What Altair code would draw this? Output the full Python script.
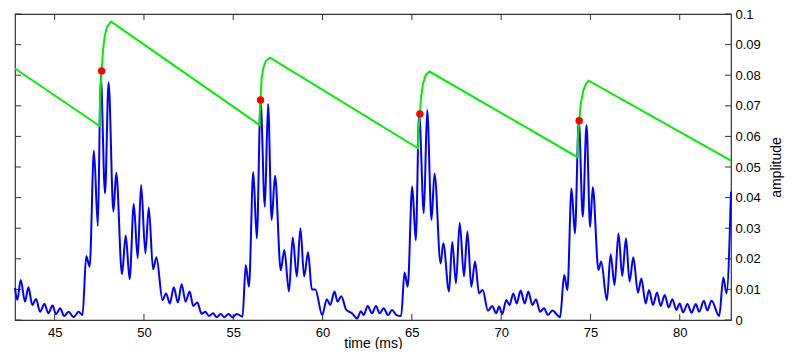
import altair as alt
import pandas as pd

# ---- data ----
blue_t = [42.78, 42.91, 43.10, 43.34, 43.53, 43.75, 43.96, 44.18, 44.43, 44.65,
          44.88, 45.08, 45.31, 45.53, 45.78, 46.06, 46.34, 46.56, 46.77, 46.96,
          47.20, 47.42, 47.58, 47.82, 48.02, 48.29, 48.45, 48.77, 48.98, 49.20,
          49.43, 49.65, 49.84, 50.08, 50.27, 50.51, 50.70, 51.04, 51.24, 51.45,
          51.67, 51.90, 52.11, 52.33, 52.56, 52.76, 52.99, 53.23, 53.44, 53.64,
          53.87, 54.07, 54.30, 54.49, 54.73, 54.96, 55.20, 55.52, 55.70, 55.88,
          56.12, 56.32, 56.53, 56.77, 56.95, 57.15, 57.34, 57.66, 57.86, 58.12,
          58.33, 58.56, 58.76, 58.97, 59.19, 59.40, 59.60, 59.98, 60.24, 60.43,
          60.67, 60.84, 61.05, 61.33, 61.65, 61.93, 62.15, 62.30, 62.53, 62.77,
          62.99, 63.20, 63.42, 63.67, 63.89, 64.14, 64.40, 64.59, 64.77, 65.02,
          65.22, 65.41, 65.67, 65.86, 66.10, 66.27, 66.61, 66.76, 67.08, 67.26,
          67.47, 67.68, 67.92, 68.11, 68.33, 68.54, 68.76, 68.97, 69.26, 69.50,
          69.72, 69.89, 70.06, 70.29, 70.47, 70.68, 70.87, 71.09, 71.32, 71.52,
          71.75, 71.95, 72.18, 72.40, 72.62, 72.87, 73.30, 73.53, 73.71, 73.94,
          74.13, 74.35, 74.57, 74.78, 74.98, 75.13, 75.45, 75.60, 75.92, 76.13,
          76.35, 76.57, 76.78, 76.99, 77.19, 77.40, 77.66, 77.85, 78.09, 78.28,
          78.50, 78.73, 78.93, 79.16, 79.38, 79.59, 79.81, 80.00, 80.19, 80.43,
          80.66, 80.90, 81.09, 81.35, 81.54, 81.78, 82.21, 82.44, 82.62, 82.87]
blue_a = [0.0105, 0.0065, 0.0131, 0.0060, 0.0107, 0.0049, 0.0069, 0.0027, 0.0052, 0.0022,
          0.0047, 0.0019, 0.0038, 0.0013, 0.0027, 0.0009, 0.0027, 0.0016, 0.0209, 0.0174,
          0.0553, 0.0307, 0.0800, 0.0414, 0.0776, 0.0354, 0.0481, 0.0150, 0.0276, 0.0133,
          0.0379, 0.0202, 0.0441, 0.0218, 0.0368, 0.0166, 0.0205, 0.0065, 0.0087, 0.0054,
          0.0107, 0.0057, 0.0117, 0.0060, 0.0093, 0.0046, 0.0057, 0.0020, 0.0027, 0.0013,
          0.0022, 0.0009, 0.0020, 0.0009, 0.0020, 0.0009, 0.0020, 0.0011, 0.0180, 0.0109,
          0.0484, 0.0267, 0.0712, 0.0370, 0.0706, 0.0327, 0.0471, 0.0163, 0.0229, 0.0093,
          0.0270, 0.0142, 0.0300, 0.0142, 0.0221, 0.0100, 0.0100, 0.0016, 0.0068, 0.0049,
          0.0093, 0.0060, 0.0078, 0.0033, 0.0022, 0.0005, 0.0029, 0.0016, 0.0046, 0.0022,
          0.0046, 0.0022, 0.0038, 0.0016, 0.0033, 0.0016, 0.0013, 0.0155, 0.0109, 0.0436,
          0.0261, 0.0675, 0.0349, 0.0686, 0.0327, 0.0479, 0.0185, 0.0251, 0.0093, 0.0256,
          0.0120, 0.0318, 0.0142, 0.0289, 0.0109, 0.0191, 0.0087, 0.0098, 0.0030, 0.0046,
          0.0022, 0.0044, 0.0020, 0.0065, 0.0049, 0.0087, 0.0054, 0.0096, 0.0054, 0.0093,
          0.0049, 0.0068, 0.0027, 0.0038, 0.0016, 0.0031, 0.0009, 0.0147, 0.0098, 0.0430,
          0.0283, 0.0654, 0.0338, 0.0637, 0.0304, 0.0434, 0.0163, 0.0191, 0.0065, 0.0215,
          0.0114, 0.0283, 0.0144, 0.0267, 0.0125, 0.0205, 0.0089, 0.0136, 0.0054, 0.0098,
          0.0049, 0.0090, 0.0046, 0.0082, 0.0041, 0.0068, 0.0033, 0.0054, 0.0025, 0.0052,
          0.0024, 0.0052, 0.0027, 0.0063, 0.0031, 0.0063, 0.0013, 0.0139, 0.0087, 0.0419]

green_t = [42.78, 47.52, 47.53, 47.58, 47.63, 47.71, 47.80, 47.93, 48.16,
           56.48, 56.49, 56.53, 56.59, 56.68, 56.83, 57.06,
           65.35, 65.37, 65.45, 65.52, 65.63, 65.78, 65.99,
           74.28, 74.30, 74.37, 74.46, 74.61, 74.76, 74.90, 82.87]
green_a = [0.0822, 0.0634, 0.0700, 0.0760, 0.0814, 0.0882, 0.0926, 0.0958, 0.0975,
           0.0637, 0.0680, 0.0719, 0.0790, 0.0822, 0.0847, 0.0857,
           0.0561, 0.0620, 0.0673, 0.0730, 0.0773, 0.0801, 0.0812,
           0.0532, 0.0600, 0.0651, 0.0708, 0.0752, 0.0773, 0.0782, 0.0521]

onset_t = [47.63, 56.53, 65.45, 74.37]
onset_a = [0.0814, 0.0719, 0.0673, 0.0651]

x_ticks = [45, 50, 55, 60, 65, 70, 75, 80]
y_ticks = [0, 0.01, 0.02, 0.03, 0.04, 0.05, 0.06, 0.07, 0.08, 0.09, 0.1]

# ---- chart ----
W, H = 716, 306
FONT = "Liberation Sans"
FRAME = "#333333"
TICK = 6

blue_df = pd.DataFrame({"t": blue_t, "a": blue_a})
green_df = pd.DataFrame({"t": green_t, "a": green_a})
onset_df = pd.DataFrame({"t": onset_t, "a": onset_a})
xt_df = pd.DataFrame({"t": x_ticks})
yt_df = pd.DataFrame({"a": y_ticks})

xs = alt.Scale(domain=[42.78, 82.87], nice=False, zero=False)
ys = alt.Scale(domain=[0, 0.1], nice=False, zero=False)

x_axis = alt.Axis(title="time (ms)", values=x_ticks, ticks=False, domain=False,
                  grid=False, labelPadding=6, labelFontSize=13, titleFontSize=14,
                  titleFontWeight="normal", titlePadding=-3, labelColor="#000",
                  titleColor="#000", labelFont=FONT, titleFont=FONT)
y_axis = alt.Axis(orient="right", title="amplitude", values=y_ticks, format="~g",
                  ticks=False, domain=False, grid=False, labelPadding=4,
                  labelFontSize=13, titleFontSize=14, titleFontWeight="normal",
                  titleAngle=270, titleX=45, titleY=H / 2, titleAlign="center",
                  titleBaseline="middle", labelColor="#000",
                  titleColor="#000", labelFont=FONT, titleFont=FONT)

X = alt.X("t:Q", scale=xs, axis=x_axis)
Y = alt.Y("a:Q", scale=ys, axis=y_axis)

ticks_bottom = alt.Chart(xt_df).mark_rule(color=FRAME, strokeWidth=1).encode(
    x=X, y=alt.value(H), y2=alt.value(H - TICK))
ticks_top = alt.Chart(xt_df).mark_rule(color=FRAME, strokeWidth=1).encode(
    x=X, y=alt.value(0), y2=alt.value(TICK))
ticks_right = alt.Chart(yt_df).mark_rule(color=FRAME, strokeWidth=1).encode(
    y=Y, x=alt.value(W - TICK), x2=alt.value(W))
ticks_left = alt.Chart(yt_df).mark_rule(color=FRAME, strokeWidth=1).encode(
    y=Y, x=alt.value(0), x2=alt.value(TICK))

blue = alt.Chart(blue_df).mark_line(color="#0000ff", strokeWidth=2,
                                    interpolate="monotone").encode(x=X, y=Y)
green = alt.Chart(green_df).mark_line(color="#00ee00", strokeWidth=2).encode(x=X, y=Y)
dots = alt.Chart(onset_df).mark_circle(color="#ff0000", size=55, opacity=1).encode(x=X, y=Y)

chart = alt.layer(ticks_bottom, ticks_top, ticks_right, ticks_left, blue, green, dots).properties(
    width=W, height=H,
    autosize=alt.AutoSizeParams(type="none"),
    padding={"left": 7, "top": 6, "right": 60, "bottom": 29},
).configure(font=FONT).configure_view(stroke=FRAME, strokeWidth=1.2)

chart.save("out.html", embed_options={"renderer": "svg", "actions": False})
